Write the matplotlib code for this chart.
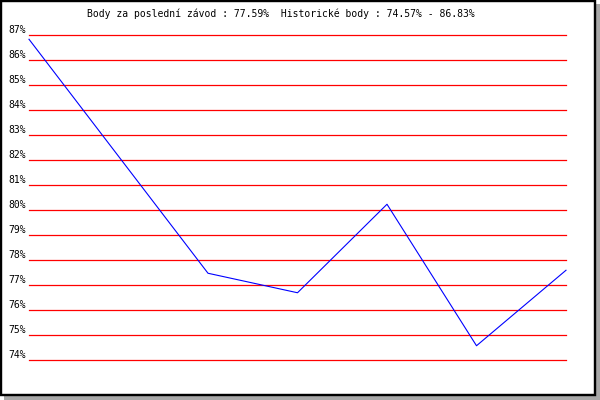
import matplotlib
matplotlib.use("Agg")
import matplotlib.pyplot as plt
from matplotlib.patches import Rectangle
import matplotlib.transforms as mtrans

# Data
race_index = [0, 2, 3, 4, 5, 6]
points_pct = [86.83, 77.47, 76.69, 80.23, 74.57, 77.59]
y_ticks = list(range(74, 88))
title = "Body za poslední závod : 77.59%  Historické body : 74.57% - 86.83%"

W, H = 600, 400
fig = plt.figure(figsize=(6, 4), dpi=100)
fig.patch.set_facecolor("white")

# shadow + frame
px = lambda v: v / W
py = lambda v: v / H
fig.patches.append(Rectangle((px(4), py(0)), px(596), py(396), transform=fig.transFigure,
                             facecolor="#a8a8a8", edgecolor="none", zorder=-3))
fig.patches.append(Rectangle((px(1.2), py(5.2)), px(593.6), py(393.6), transform=fig.transFigure,
                             facecolor="white", edgecolor="black", linewidth=2.4 * 0.72, zorder=-2))

ax = fig.add_axes([29 / W, 40 / H, 537 / W, 325 / H])
ax.set_zorder(1)
ax.set_facecolor("none")
ax.patch.set_visible(False)
ax.set_xlim(0, 6)
ax.set_ylim(74, 87)
for s in ax.spines.values():
    s.set_visible(False)
ax.set_xticks([])
ax.set_yticks([])

for v in y_ticks:
    ax.axhline(v, color="#ff0000", linewidth=0.9, clip_on=False, zorder=1)

ax.plot(race_index, points_pct, color="#0000ff", linewidth=0.8, clip_on=False, zorder=2)

mono = "DejaVu Sans Mono"
trans = mtrans.blended_transform_factory(ax.transAxes, ax.transData) + \
    mtrans.ScaledTranslation(-3 / 100, 2 / 100, fig.dpi_scale_trans)
for v in y_ticks:
    ax.text(0, v, f"{v}%", transform=trans, ha="right", va="baseline",
            fontsize=7, family=mono, color="black")

fig.text(280.5 / W, (H - 17) / H, title, ha="center", va="baseline",
         fontsize=7, family=mono, color="black", zorder=5)

fig.savefig("out.png", dpi=100)
